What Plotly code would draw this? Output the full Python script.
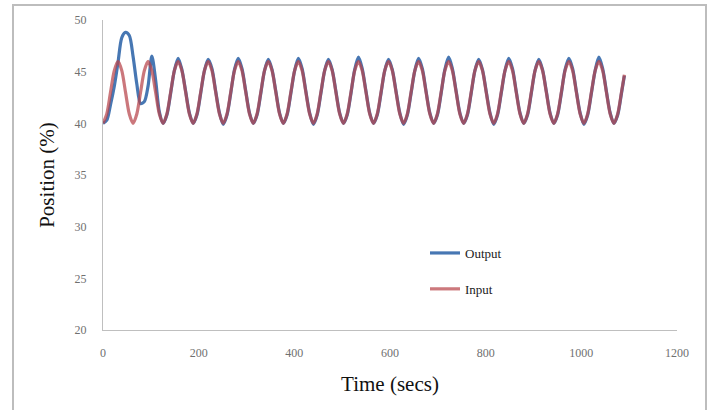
import plotly.graph_objects as go

# Time samples (s)
time_s = [
    0.0, 7.9, 15.7, 23.6, 31.4, 39.3, 47.1, 55.0,
    62.8, 70.7, 78.5, 86.4, 94.2, 102.1, 110.0, 117.8,
    125.7, 133.5, 141.4, 149.2, 157.1, 164.9, 172.8, 180.6,
    188.5, 196.3, 204.2, 212.1, 219.9, 227.8, 235.6, 243.5,
    251.3, 259.2, 267.0, 274.9, 282.7, 290.6, 298.5, 306.3,
    314.2, 322.0, 329.9, 337.7, 345.6, 353.4, 361.3, 369.1,
    377.0, 384.8, 392.7, 400.6, 408.4, 416.3, 424.1, 432.0,
    439.8, 447.7, 455.5, 463.4, 471.2, 479.1, 486.9, 494.8,
    502.7, 510.5, 518.4, 526.2, 534.1, 541.9, 549.8, 557.6,
    565.5, 573.3, 581.2, 589.0, 596.9, 604.8, 612.6, 620.5,
    628.3, 636.2, 644.0, 651.9, 659.7, 667.6, 675.4, 683.3,
    691.2, 699.0, 706.9, 714.7, 722.6, 730.4, 738.3, 746.1,
    754.0, 761.8, 769.7, 777.5, 785.4, 793.3, 801.1, 809.0,
    816.8, 824.7, 832.5, 840.4, 848.2, 856.1, 863.9, 871.8,
    879.6, 887.5, 895.4, 903.2, 911.1, 918.9, 926.8, 934.6,
    942.5, 950.3, 958.2, 966.0, 973.9, 981.8, 989.6, 997.5,
    1005.3, 1013.2, 1021.0, 1028.9, 1036.7, 1044.6, 1052.4, 1060.3,
    1068.1, 1076.0, 1083.9, 1090.0,
]

output_pos = [
    40.0, 40.3, 41.8, 43.6, 45.9, 48.3, 48.8, 48.5,
    46.5, 43.8, 41.9, 42.1, 43.6, 46.5, 44.2, 41.1,
    40.0, 40.8, 42.9, 45.1, 46.3, 45.2, 43.1, 41.0,
    40.0, 40.8, 42.9, 45.1, 46.2, 45.3, 43.1, 41.0,
    39.9, 40.8, 42.9, 45.2, 46.3, 45.3, 43.1, 41.0,
    40.0, 40.8, 42.9, 45.1, 46.2, 45.2, 43.1, 41.0,
    40.0, 40.8, 42.9, 45.1, 46.3, 45.3, 43.1, 41.0,
    39.9, 40.8, 42.9, 45.1, 46.2, 45.2, 43.1, 41.0,
    40.0, 40.8, 42.9, 45.2, 46.4, 45.3, 43.1, 41.0,
    40.0, 40.8, 42.9, 45.1, 46.2, 45.2, 43.1, 41.0,
    39.9, 40.8, 42.9, 45.1, 46.3, 45.3, 43.1, 41.0,
    40.0, 40.8, 42.9, 45.2, 46.4, 45.3, 43.1, 41.0,
    40.0, 40.8, 42.9, 45.1, 46.2, 45.2, 43.1, 41.0,
    39.9, 40.8, 42.9, 45.1, 46.3, 45.3, 43.1, 41.0,
    40.0, 40.8, 42.9, 45.1, 46.2, 45.2, 43.1, 41.0,
    40.0, 40.8, 42.9, 45.2, 46.3, 45.3, 43.1, 41.0,
    39.9, 40.8, 42.9, 45.1, 46.4, 45.3, 43.1, 41.0,
    40.0, 40.8, 42.9, 44.6,
]

input_pos = [
    40.0, 40.9, 43.0, 45.1, 46.0, 45.1, 43.0, 40.9,
    40.0, 40.9, 43.0, 45.1, 46.0, 45.1, 43.0, 40.9,
    40.0, 40.9, 43.0, 45.1, 46.0, 45.1, 43.0, 40.9,
    40.0, 40.9, 43.0, 45.1, 46.0, 45.1, 43.0, 40.9,
    40.0, 40.9, 43.0, 45.1, 46.0, 45.1, 43.0, 40.9,
    40.0, 40.9, 43.0, 45.1, 46.0, 45.1, 43.0, 40.9,
    40.0, 40.9, 43.0, 45.1, 46.0, 45.1, 43.0, 40.9,
    40.0, 40.9, 43.0, 45.1, 46.0, 45.1, 43.0, 40.9,
    40.0, 40.9, 43.0, 45.1, 46.0, 45.1, 43.0, 40.9,
    40.0, 40.9, 43.0, 45.1, 46.0, 45.1, 43.0, 40.9,
    40.0, 40.9, 43.0, 45.1, 46.0, 45.1, 43.0, 40.9,
    40.0, 40.9, 43.0, 45.1, 46.0, 45.1, 43.0, 40.9,
    40.0, 40.9, 43.0, 45.1, 46.0, 45.1, 43.0, 40.9,
    40.0, 40.9, 43.0, 45.1, 46.0, 45.1, 43.0, 40.9,
    40.0, 40.9, 43.0, 45.1, 46.0, 45.1, 43.0, 40.9,
    40.0, 40.9, 43.0, 45.1, 46.0, 45.1, 43.0, 40.9,
    40.0, 40.9, 43.0, 45.1, 46.0, 45.1, 43.0, 40.9,
    40.0, 40.9, 43.0, 44.7,
]

x_ticks = [0, 200, 400, 600, 800, 1000, 1200]
y_ticks = [20, 25, 30, 35, 40, 45, 50]

W, H = 713, 410
L, R, T, B = 103, 36, 20, 80
pw, ph = W - L - R, H - T - B

fig = go.Figure()
fig.add_trace(go.Scatter(
    x=time_s, y=output_pos, name="Output", mode="lines", legendgroup="o",
    line=dict(color="#4777B3", width=3.2, shape="spline", smoothing=0.8),
))
fig.add_trace(go.Scatter(
    x=time_s, y=input_pos, name="Input", mode="lines", legendgroup="i",
    opacity=0.72,
    line=dict(color="#B8444A", width=3.2, shape="spline", smoothing=0.8),
))

serif = "Liberation Serif, Times New Roman, serif"
fig.update_layout(
    width=W, height=H,
    margin=dict(l=L, r=R, t=T, b=B),
    paper_bgcolor="white", plot_bgcolor="white",
    font=dict(family=serif, color="#222"),
    legend=dict(
        x=(425 - L) / pw, y=(330 - 238) / ph, xanchor="left", yanchor="top",
        font=dict(family=serif, size=13, color="#222"),
        bgcolor="rgba(0,0,0,0)", tracegroupgap=16, traceorder="grouped",
        itemwidth=30,
    ),
    xaxis=dict(
        range=[0, 1200], tickvals=x_ticks, showgrid=False, zeroline=False,
        showline=True, linecolor="#BFBFBF", linewidth=1.2, ticks="",
        ticklabelstandoff=11,
        tickfont=dict(family=serif, size=12, color="#707070"),
        title=dict(text="Time (secs)", font=dict(family=serif, size=21, color="#111"), standoff=17),
    ),
    yaxis=dict(
        range=[20, 50], tickvals=y_ticks, showgrid=False, zeroline=False,
        showline=True, linecolor="#BFBFBF", linewidth=1.2, ticks="",
        ticklabelstandoff=13,
        tickfont=dict(family=serif, size=12, color="#707070"),
        title=dict(text="Position (%)", font=dict(family=serif, size=21, color="#111"), standoff=14),
    ),
    shapes=[dict(
        type="rect", xref="paper", yref="paper",
        x0=(13 - L) / pw, x1=(706 - L) / pw,
        y0=(T + ph - 420) / ph, y1=(T + ph - 5) / ph,
        line=dict(color="#BDBDBD", width=2), layer="below",
    )],
)

fig.write_html("out.html")
